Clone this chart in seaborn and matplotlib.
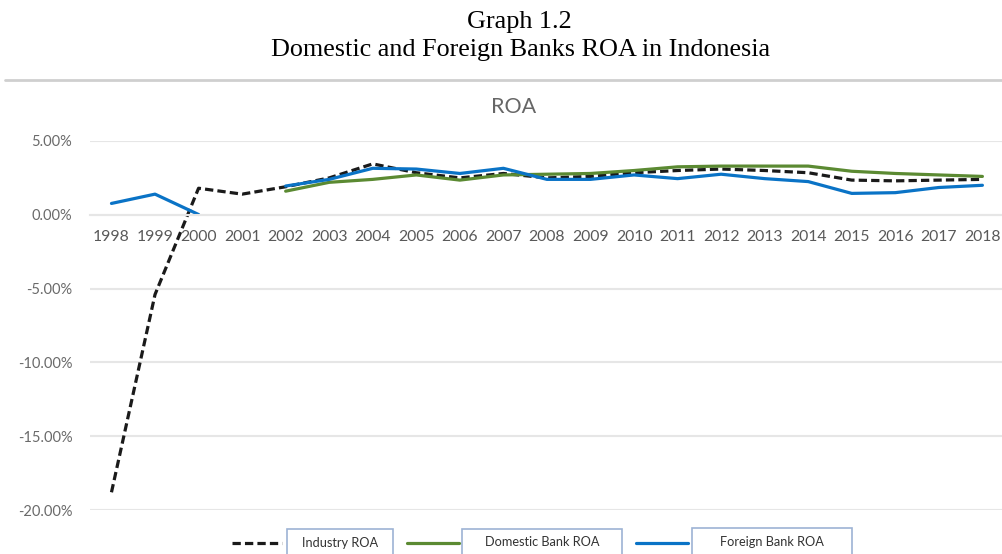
import numpy as np
import pandas as pd
import matplotlib
matplotlib.use("Agg")
import matplotlib.pyplot as plt
import seaborn as sns
from matplotlib.lines import Line2D
from matplotlib.patches import Rectangle
from matplotlib.ticker import FuncFormatter

years = list(range(1998, 2019))
industry_roa = [-18.8, -5.4, 1.8, 1.4, 1.9, 2.5, 3.45, 2.85, 2.5, 2.8, 2.5, 2.6,
                2.85, 3.0, 3.1, 3.0, 2.85, 2.35, 2.3, 2.35, 2.4]
domestic_roa = [np.nan, np.nan, np.nan, np.nan, 1.6, 2.2, 2.4, 2.7, 2.35, 2.7, 2.75, 2.8,
                3.0, 3.25, 3.3, 3.3, 3.3, 2.95, 2.8, 2.7, 2.6]
foreign_roa = [0.77, 1.4, 0.02, np.nan, 1.95, 2.4, 3.15, 3.1, 2.8, 3.15, 2.4, 2.4,
               2.7, 2.45, 2.75, 2.45, 2.25, 1.45, 1.5, 1.85, 2.0]
series_names = ["Industry ROA", "Domestic Bank ROA", "Foreign Bank ROA"]
y_ticks = [5, 0, -5, -10, -15, -20]

colors = {"Industry ROA": "#1a1a1a", "Domestic Bank ROA": "#5b8a32", "Foreign Bank ROA": "#0a73c6"}

rows = []
for name, vals in zip(series_names, [industry_roa, domestic_roa, foreign_roa]):
    seg = 0
    prev_nan = True
    for yr, v in zip(years, vals):
        if np.isnan(v):
            prev_nan = True
            continue
        if prev_nan:
            seg += 1
            prev_nan = False
        rows.append({"year": yr, "value": v, "series": name, "seg": f"{name}-{seg}"})
df = pd.DataFrame(rows)

sns.set_theme(style="white")
plt.rcParams["font.family"] = ["Lato", "DejaVu Sans"]

W, H = 1002, 554
fig = plt.figure(figsize=(W / 100, H / 100), dpi=100)
fig.patch.set_facecolor("white")
ax = fig.add_axes([89.7 / W, 1 - 510 / H, 1 - 89.7 / W, (510 - 141) / H])

for name in series_names:
    sub = df[df.series == name]
    sns.lineplot(data=sub, x="year", y="value", units="seg", estimator=None,
                 color=colors[name], lw=2.3, ax=ax, legend=False,
                 dashes=False, sort=True)
for ln in ax.lines:
    if matplotlib.colors.to_hex(ln.get_color()) == colors["Industry ROA"]:
        ln.set_dashes((2.6, 1.3))
    ln.set_solid_capstyle("round")
    ln.set_dash_capstyle("butt")

ax.set_xlim(1997.5, 2018.45)
ax.set_ylim(-20, 5)
ax.set_xticks(years)
ax.set_xticklabels([str(y) for y in years])
ax.set_yticks(y_ticks)
ax.yaxis.set_major_formatter(FuncFormatter(lambda v, p: f"{v:.2f}%"))
ax.grid(axis="y", color="#e6e6e6", lw=1.5)
ax.grid(axis="x", visible=False)
for s in ["top", "right", "left"]:
    ax.spines[s].set_visible(False)
ax.spines["bottom"].set_position(("data", 0))
ax.spines["bottom"].set_color("#e6e6e6")
ax.spines["bottom"].set_linewidth(1.5)
ax.tick_params(axis="x", length=0, pad=11, labelsize=11.3, labelcolor="#595959")
ax.tick_params(axis="y", length=0, pad=12.5, labelsize=10.5, labelcolor="#6a6a6a")
ax.set_xlabel("")
ax.set_ylabel("")
ax.set_facecolor("white")

# Titles
fig.text(519 / W, 1 - 22 / H, "Graph 1.2", ha="center", va="center",
         family="Liberation Serif", fontsize=18.8, color="black")
fig.text(521 / W, 1 - 50 / H, "Domestic and Foreign Banks ROA in Indonesia", ha="center",
         va="center", family="Liberation Serif", fontsize=18.8, color="black")
fig.add_artist(Line2D([5 / W, 1.0], [1 - 80 / H, 1 - 80 / H], color="#cfcfcf", lw=2))
fig.text(514 / W, 1 - 107 / H, "ROA", ha="center", va="center", fontsize=15.5, color="#666666")

# Legend
leg_items = [
    ("Industry ROA", (232, 282), (287, 393, 529), 543),
    ("Domestic Bank ROA", (407, 459), (462, 622, 529), 542),
    ("Foreign Bank ROA", (636, 688), (692, 852, 528), 542),
]
for name, (lx0, lx1), (bx0, bx1, by0), ty in leg_items:
    ln = Line2D([lx0 / W, lx1 / W], [1 - 543 / H, 1 - 543 / H], color=colors[name], lw=2.3)
    if name == "Industry ROA":
        ln.set_dashes((2.6, 1.3))
    fig.add_artist(ln)
    fig.add_artist(Rectangle((bx0 / W, 1 - 560 / H), (bx1 - bx0) / W, (560 - by0) / H,
                             transform=fig.transFigure, fc="white", ec="#9db3d4", lw=1.2))
    fig.text((bx0 + bx1) / 2 / W, 1 - ty / H, name, ha="center", va="center",
             fontsize=9.2, color="#333333")

fig.savefig("out.png", dpi=100, facecolor="white")
